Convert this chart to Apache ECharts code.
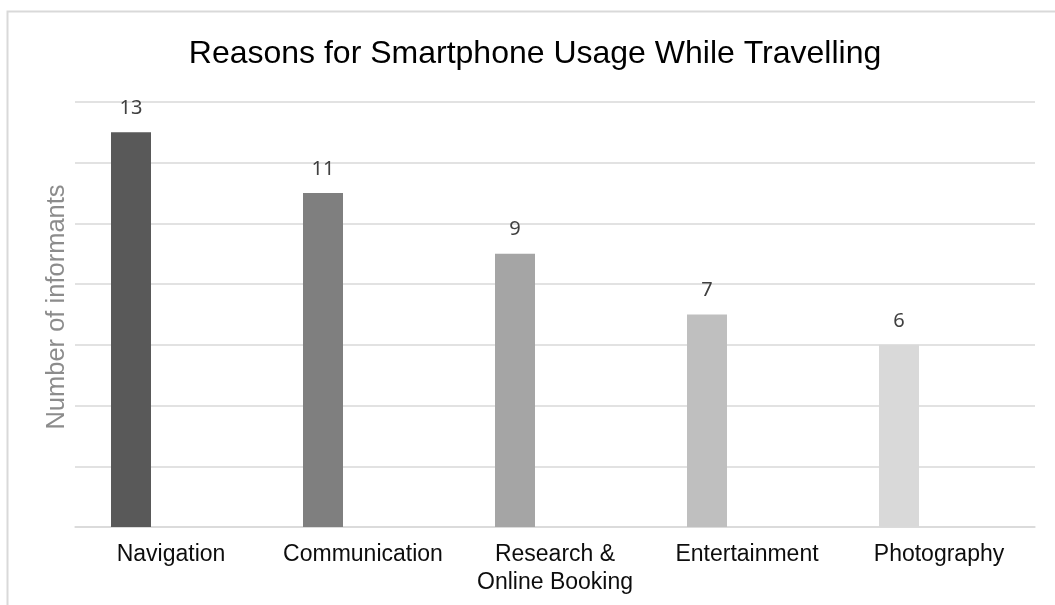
<!DOCTYPE html>
<html>
<head>
<meta charset="utf-8">
<script src="https://cdn.jsdelivr.net/npm/echarts@6/dist/echarts.min.js"></script>
<style>
  html, body { margin: 0; padding: 0; background: #fff; }
  #box1 { width: 1055px; height: 605px; }
</style>
</head>
<body>
<div id="box1"></div>
<script>
// data
var reasons = ['Navigation', 'Communication', 'Research &\nOnline Booking', 'Entertainment', 'Photography'];
var informants = [13, 11, 9, 7, 6];
var barColors = ['#595959', '#7f7f7f', '#a5a5a5', '#bfbfbf', '#d9d9d9'];

var reasonChart = echarts.init(document.getElementById('box1'));

var barData = informants.map(function(v, i) {
  return { value: v, itemStyle: { color: barColors[i] } };
});

var option = {
  animation: false,
  title: {
    text: 'Reasons for Smartphone Usage While Travelling',
    left: 530,
    textAlign: 'center',
    top: 33,
    textStyle: {
      fontFamily: 'Liberation Sans',
      fontSize: 32,
      fontWeight: 'normal',
      color: '#000'
    }
  },
  graphic: [
    {
      // outer chart border (only top & left visible)
      type: 'polyline',
      shape: { points: [[7.5, 700], [7.5, 11.5], [1100, 11.5]] },
      style: { stroke: '#d9d9d9', lineWidth: 2, fill: null }
    },
    {
      type: 'text',
      x: 57,
      y: 307,
      rotation: Math.PI / 2,
      style: {
        text: 'Number of informants',
        font: '25.5px "Liberation Sans"',
        fill: '#8c8c8c',
        align: 'center',
        verticalAlign: 'middle'
      }
    }
  ],
  grid: {
    left: 75,
    right: 20,
    top: 102,
    bottom: 78
  },
  xAxis: {
    type: 'category',
    data: reasons,
    axisTick: { show: false },
    axisLine: { lineStyle: { color: '#d9d9d9', width: 1.5 } },
    axisLabel: {
      margin: 14,
      fontFamily: 'Liberation Sans',
      fontSize: 23,
      lineHeight: 28,
      color: '#0d0d0d',
      interval: 0
    }
  },
  yAxis: {
    type: 'value',
    min: 0,
    max: 14,
    interval: 2,
    axisLabel: { show: false },
    axisTick: { show: false },
    axisLine: { show: false },
    splitLine: { lineStyle: { color: '#d9d9d9', width: 1.5 } }
  },
  series: [
    {
      name: 'Number of informants',
      type: 'bar',
      barWidth: 40,
      barGap: '100%',
      data: barData,
      label: {
        show: true,
        position: 'top',
        distance: 14,
        fontFamily: 'Noto Sans',
        fontSize: 20,
        color: '#404040'
      }
    },
    {
      // empty second series in the cluster, pushes bars left like the original
      name: 'blank',
      type: 'bar',
      barWidth: 40,
      data: []
    }
  ]
};

reasonChart.setOption(option);
</script>
</body>
</html>
